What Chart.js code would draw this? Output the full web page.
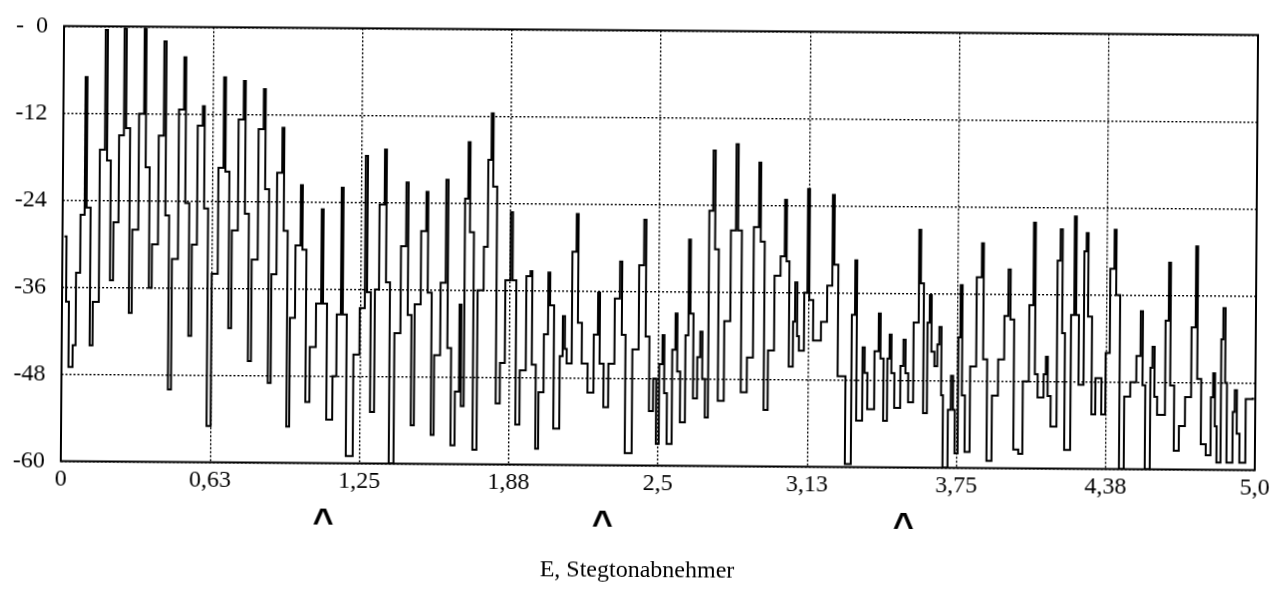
<!DOCTYPE html>
<html>
<head>
<meta charset="utf-8">
<script src="https://cdn.jsdelivr.net/npm/chart.js@4"></script>
<style>
  html, body { margin: 0; padding: 0; background: #fff; overflow: hidden; }
  #spectrumChart { display: block; transform: rotate(0.43deg); transform-origin: 50% 50%; }
</style>
</head>
<body>
<canvas id="spectrumChart" width="1286" height="609"></canvas>
<script>
// spectrum of the E string, bridge pickup: frequency in kHz, level in dB
// (one row per harmonic: rise, rise, peak, fall, trough)
const freqKHz = [
  0.008, 0.017, 0.029, 0.046,
  0.058, 0.075, 0.092, 0.100, 0.117,
  0.129, 0.154, 0.175, 0.184, 0.200,
  0.213, 0.234, 0.254, 0.263, 0.280,
  0.292, 0.317, 0.338, 0.346, 0.363,
  0.375, 0.400, 0.421, 0.430, 0.446,
  0.459, 0.484, 0.505, 0.513, 0.530,
  0.542, 0.563, 0.584, 0.592, 0.609,
  0.626, 0.651, 0.672, 0.680, 0.697,
  0.709, 0.734, 0.755, 0.763, 0.780,
  0.793, 0.818, 0.839, 0.847, 0.864,
  0.876, 0.897, 0.918, 0.926, 0.943,
  0.955, 0.976, 0.997, 1.005, 1.022,
  1.039, 1.064, 1.085, 1.093, 1.110,
  1.135, 1.151, 1.168, 1.176, 1.193,
  1.222, 1.247, 1.268, 1.277, 1.293,
  1.310, 1.327, 1.348, 1.356, 1.373,
  1.393, 1.418, 1.439, 1.448, 1.464,
  1.477, 1.502, 1.523, 1.531, 1.548,
  1.560, 1.585, 1.606, 1.615, 1.631,
  1.648, 1.665, 1.673,
  1.685, 1.698, 1.706, 1.723,
  1.740, 1.765, 1.781, 1.794, 1.802, 1.819,
  1.836, 1.856, 1.877, 1.886, 1.902,
  1.919, 1.944, 1.961, 1.969, 1.986,
  1.998, 2.019, 2.036, 2.044, 2.061,
  2.086, 2.098, 2.107, 2.115,
  2.136, 2.153, 2.161, 2.178,
  2.203, 2.228, 2.245, 2.253, 2.270,
  2.290, 2.315, 2.336, 2.345, 2.361,
  2.390, 2.416, 2.436, 2.445, 2.461,
  2.478, 2.491,
  2.503, 2.516, 2.524, 2.536,
  2.557, 2.570, 2.578, 2.591,
  2.612, 2.624, 2.632, 2.645,
  2.662, 2.674, 2.683, 2.695,
  2.708, 2.724, 2.733, 2.749,
  2.774, 2.799, 2.820, 2.829, 2.845,
  2.870, 2.895, 2.916, 2.924, 2.941,
  2.958, 2.983, 3.008, 3.025, 3.033, 3.045,
  3.062, 3.070, 3.079, 3.087,
  3.108, 3.121, 3.129, 3.146,
  3.179, 3.204, 3.225, 3.233, 3.250, 3.283,
  3.308, 3.321, 3.329,
  3.354, 3.363, 3.375,
  3.404, 3.421, 3.429, 3.442,
  3.458, 3.467, 3.475, 3.488,
  3.513, 3.525, 3.534, 3.546,
  3.567, 3.588, 3.596, 3.609,
  3.625, 3.634, 3.642, 3.655,
  3.667, 3.675, 3.684, 3.692,
  3.713, 3.725, 3.734, 3.742,
  3.755, 3.763, 3.771, 3.784,
  3.805, 3.830, 3.851, 3.859, 3.876,
  3.897, 3.922, 3.947, 3.963, 3.972, 3.988,
  4.009, 4.026, 4.051, 4.068, 4.076, 4.088,
  4.113, 4.122, 4.130, 4.143,
  4.168, 4.180, 4.189, 4.201,
  4.226, 4.239, 4.247, 4.259,
  4.280, 4.289, 4.297, 4.314,
  4.330, 4.355,
  4.372, 4.389, 4.406, 4.414, 4.431,
  4.451, 4.476, 4.501, 4.518, 4.527, 4.539,
  4.560, 4.568, 4.577, 4.589,
  4.622, 4.635, 4.643, 4.660,
  4.681, 4.706, 4.731, 4.748, 4.756, 4.773,
  4.794, 4.814, 4.823, 4.831, 4.839,
  4.856, 4.864, 4.873, 4.881,
  4.906, 4.914, 4.923, 4.935,
  4.960, 4.990
];
const levelDb = [
  -29, -38, -47, -44,
  -34, -26, -7, -25, -44,
  -38, -17, -0.5, -18.5, -35,
  -27, -15, -0.3, -14, -39.5,
  -28, -12, -0.3, -19.4, -36,
  -30, -15, -2, -26, -50,
  -32, -11.4, -4.2, -24.3, -42.6,
  -30, -13.6, -10.9, -25, -55,
  -34, -19.4, -6.9, -19.9, -41.5,
  -28, -12.7, -7.4, -25.7, -46,
  -32, -14, -8.5, -22.3, -49,
  -34, -20, -13.8, -28, -55,
  -40, -30, -21.7, -30.6, -51.6,
  -44, -38, -25, -38, -54,
  -48, -39.5, -22, -39.5, -59,
  -45, -38.6, -17.6, -36.4, -52.9,
  -36, -24.3, -16.7, -35, -60,
  -42, -30, -21.2, -39.5, -54.7,
  -38, -27.9, -22.5, -36.4, -56,
  -45, -35, -20.8, -44, -57.4,
  -50, -38, -52,
  -23.4, -15.6, -28, -58,
  -36, -30, -18, -11.6, -21.7, -51.6,
  -46, -34.6, -25.2, -34.6, -54.5,
  -47, -34, -33.3, -46.2, -57.8,
  -50, -42, -33.5, -38, -55,
  -45, -39.5, -44, -46,
  -30.6, -25.4, -40.4, -46,
  -50, -42, -36.2, -46, -52,
  -46, -37, -31.9, -42, -58.3,
  -44, -32.4, -26.1, -42.2, -52.5,
  -48, -57,
  -46, -42, -50, -57,
  -44, -39, -47, -54,
  -42, -28.8, -39, -50.7,
  -45, -41.5, -48, -53.3,
  -24.8, -16.5, -30.1, -51,
  -40, -27.5, -15.6, -27.5, -49.8,
  -45, -27, -18.1, -29, -52.2,
  -44, -33.7, -31, -23.2, -31.7, -46.2,
  -40, -34.6, -42, -44,
  -36, -21.7, -37, -42.6,
  -40, -35, -22.5, -32.1, -47.5, -59.6,
  -39, -31.5, -53.6,
  -43.5, -47, -52,
  -44, -38.8, -45, -53.6,
  -45, -41.7, -47, -51.8,
  -46, -42.4, -47, -51,
  -40, -27.2, -34.6, -52.5,
  -40, -36.2, -44, -46,
  -43, -40.6, -50, -60,
  -52, -47.3, -52, -58,
  -42, -34.8, -50, -57.8,
  -46, -33.7, -29, -45, -59,
  -50, -45, -39, -32.6, -39.5, -57.4,
  -58, -48, -37.5, -26.1, -47, -50.2,
  -47, -44.6, -50, -54.2,
  -31.3, -27, -41.3, -57.4,
  -38.8, -25.2, -38.8, -48.4,
  -30, -27.5, -39, -52.5,
  -47.5, -52.5,
  -44, -32.4, -27, -36, -60,
  -50, -48, -44.4, -38.2, -48.4, -60,
  -46, -43.1, -50, -52.5,
  -39.5, -31.5, -48.4, -57.4,
  -54, -50, -40.4, -29.2, -47.5, -56.5,
  -58, -50, -46.7, -54, -59,
  -42, -37.7, -48, -59,
  -52, -49, -55, -59,
  -50.2, -50
];

const xTickValues = [0, 0.625, 1.25, 1.875, 2.5, 3.125, 3.75, 4.375, 5];
const xTickLabels = ['0', '0,63', '1,25', '1,88', '2,5', '3,13', '3,75', '4,38', '5,0'];
const yTickLabels = { '0': '-\u20070', '-12': '-12', '-24': '-24', '-36': '-36', '-48': '-48', '-60': '-60' };
const markerKHz = [1.10, 2.27, 3.53];
const caption = 'E, Stegtonabnehmer';

const points = freqKHz.map((f, i) => ({ x: f, y: levelDb[i] }));

// frame, ^ marks and caption
const extrasPlugin = {
    id: 'extras',
    afterDraw(chart) {
        const ctx = chart.ctx;
        const area = chart.chartArea;
        const xScale = chart.scales.x;
        ctx.save();
        ctx.strokeStyle = '#000';
        ctx.lineWidth = 2;
        ctx.strokeRect(area.left, area.top, area.right - area.left, area.bottom - area.top);

        ctx.fillStyle = '#000';
        ctx.textAlign = 'center';
        ctx.textBaseline = 'alphabetic';
        ctx.font = 'bold 36px "Liberation Sans"';
        markerKHz.forEach(f => ctx.fillText('^', xScale.getPixelForValue(f), 536));

        ctx.font = '24px "Liberation Serif"';
        ctx.fillText(caption, 639, 577);
        ctx.restore();
    }
};

const serif = { family: '"Liberation Serif", "Times New Roman", serif', size: 24 };

new Chart(document.getElementById('spectrumChart').getContext('2d'), {
    type: 'line',
    data: {
        datasets: [{
            data: points,
            borderColor: '#000',
            borderWidth: 2,
            pointRadius: 0,
            stepped: true,
            fill: false
        }]
    },
    options: {
        responsive: false,
        animation: false,
        events: [],
        layout: { padding: { left: 0, top: 23, right: 30, bottom: 103.5 } },
        plugins: { legend: { display: false }, tooltip: { enabled: false } },
        scales: {
            x: {
                type: 'linear',
                min: 0,
                max: 5,
                afterBuildTicks: scale => { scale.ticks = xTickValues.map(v => ({ value: v })); },
                afterFit: scale => { scale.height = 40; },
                ticks: {
                    autoSkip: false,
                    maxRotation: 0,
                    padding: 4,
                    color: '#000',
                    font: serif,
                    callback: (v, i) => xTickLabels[i]
                },
                grid: { color: '#000', lineWidth: 1.4, drawTicks: false },
                border: { display: false, dash: [2, 2] }
            },
            y: {
                min: -60,
                max: 0,
                afterFit: scale => { scale.width = 62; },
                ticks: {
                    stepSize: 12,
                    padding: 16,
                    color: '#000',
                    font: serif,
                    callback: v => yTickLabels[String(v)]
                },
                grid: { color: '#000', lineWidth: 1.4, drawTicks: false },
                border: { display: false, dash: [2, 2] }
            }
        }
    },
    plugins: [extrasPlugin]
});
</script>
</body>
</html>
